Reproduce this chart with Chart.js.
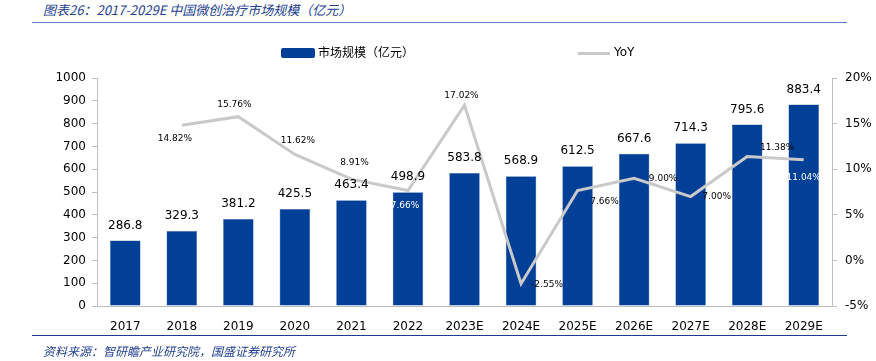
<!DOCTYPE html>
<html lang="zh">
<head>
    <meta charset="UTF-8">
    <title>中国微创治疗市场规模</title>
    <script src="https://cdn.jsdelivr.net/npm/chart.js"></script>
    <style>
        body { margin: 0; width: 876px; height: 361px; position: relative; background: #fff; overflow: hidden; }
        #chartWrap { position: absolute; left: 0; top: 0; width: 876px; height: 361px; }
        .title { position: absolute; left: 43px; top: 0px; font: italic 13px "Noto Sans CJK SC", sans-serif; color: #23408e; }
        .topline { position: absolute; left: 32px; top: 22px; width: 815px; height: 1px; background: #5b7fc4; }
        .bottomline { position: absolute; left: 32px; top: 335px; width: 815px; height: 1px; background: #1f3c88; }
        .source { position: absolute; left: 43px; top: 342px; font: italic 12px "Noto Sans CJK SC", sans-serif; color: #23408e; }
        .legend { position: absolute; top: 43px; font: 12px "Noto Sans CJK SC", sans-serif; color: #000; }
        .swatch { position: absolute; }
    </style>
</head>
<body>
    <div class="title">图表26：2017-2029E 中国微创治疗市场规模（亿元）</div>
    <div class="topline"></div>
    <div id="chartWrap"><canvas id="marketChart" width="876" height="361"></canvas></div>
    <div class="swatch" style="left:281px;top:48px;width:34px;height:10px;background:#023f96;border-radius:2px;"></div>
    <div class="legend" style="left:318px;">市场规模（亿元）</div>
    <div class="swatch" style="left:578px;top:52px;width:32px;height:3px;background:#c9c9c9;"></div>
    <div class="legend" style="left:614px;font-family:'DejaVu Sans',sans-serif;top:45px;">YoY</div>
    <div class="bottomline"></div>
    <div class="source">资料来源：智研瞻产业研究院，国盛证券研究所</div>
    <script>
        // chart data
        const years = ['2017', '2018', '2019', '2020', '2021', '2022', '2023E', '2024E', '2025E', '2026E', '2027E', '2028E', '2029E'];
        const marketSize = [286.8, 329.3, 381.2, 425.5, 463.4, 498.9, 583.8, 568.9, 612.5, 667.6, 714.3, 795.6, 883.4];
        const yoy = [null, 14.82, 15.76, 11.62, 8.91, 7.66, 17.02, -2.55, 7.66, 9.00, 7.00, 11.38, 11.04];
        const leftTicks = [0, 100, 200, 300, 400, 500, 600, 700, 800, 900, 1000];
        const rightTicks = [-5, 0, 5, 10, 15, 20];

        // where each YoY label sits relative to its point (dx, dy, colour)
        const yoyLabelStyle = [
            null, [-7, 13, '#000'], [-4, -12, '#000'], [3, -14, '#000'], [3, -16, '#000'], [-3, 15, '#fff'],
            [-3, -10, '#000'], [26, 1, '#000'], [27, 11, '#000'], [29, 0, '#000'], [26, 0, '#000'],
            [30, -9, '#000'], [0, 18, '#fff']
        ];

        const labelPlugin = {
            id: 'valueLabels',
            afterDatasetsDraw(chart) {
                const ctx = chart.ctx;
                ctx.save();
                ctx.textAlign = 'center';
                ctx.textBaseline = 'middle';
                // bar values
                ctx.font = '12px "DejaVu Sans"';
                ctx.fillStyle = '#000';
                chart.getDatasetMeta(0).data.forEach((bar, i) => {
                    ctx.fillText(marketSize[i].toFixed(1), bar.x, bar.y - 15);
                });
                // yoy values
                ctx.font = '9px "DejaVu Sans"';
                chart.getDatasetMeta(1).data.forEach((pt, i) => {
                    if (yoy[i] === null) return;
                    const s = yoyLabelStyle[i];
                    ctx.fillStyle = s[2];
                    ctx.fillText(yoy[i].toFixed(2) + '%', pt.x + s[0], pt.y + s[1]);
                });
                ctx.restore();
            }
        };

        const ctx = document.getElementById('marketChart').getContext('2d');
        new Chart(ctx, {
            data: {
                labels: years,
                datasets: [
                    {
                        type: 'bar',
                        label: '市场规模（亿元）',
                        data: marketSize,
                        backgroundColor: '#023f96',
                        borderColor: '#4a6fb5',
                        borderWidth: 0.5,
                        barPercentage: 0.54,
                        categoryPercentage: 1,
                        yAxisID: 'y',
                        order: 2
                    },
                    {
                        type: 'line',
                        label: 'YoY',
                        data: yoy,
                        borderColor: '#c9c9c9',
                        borderWidth: 3,
                        pointRadius: 0,
                        tension: 0,
                        spanGaps: false,
                        yAxisID: 'y1',
                        order: 1
                    }
                ]
            },
            options: {
                responsive: false,
                animation: false,
                layout: { padding: { top: 78, right: 0, left: 0, bottom: 0 } },
                plugins: {
                    legend: { display: false },
                    tooltip: { enabled: false }
                },
                scales: {
                    x: {
                        grid: { display: false },
                        border: { color: '#bfbfbf' },
                        ticks: { color: '#000', font: { family: 'DejaVu Sans', size: 12 }, padding: 6 },
                        afterFit(scale) { scale.height = 55; }
                    },
                    y: {
                        position: 'left',
                        min: 0,
                        max: 1000,
                        afterBuildTicks(scale) { scale.ticks = leftTicks.map(v => ({ value: v })); },
                        grid: { drawOnChartArea: false, tickLength: 5, color: '#bfbfbf' },
                        border: { color: '#bfbfbf' },
                        ticks: {
                            color: '#000',
                            font: { family: 'DejaVu Sans', size: 12 },
                            padding: 6,
                            callback: v => String(v)
                        },
                        afterFit(scale) { scale.width = 97; }
                    },
                    y1: {
                        position: 'right',
                        min: -5,
                        max: 20,
                        afterBuildTicks(scale) { scale.ticks = rightTicks.map(v => ({ value: v })); },
                        grid: { drawOnChartArea: false, tickLength: 5, color: '#bfbfbf' },
                        border: { color: '#bfbfbf' },
                        ticks: {
                            color: '#000',
                            font: { family: 'DejaVu Sans', size: 12 },
                            padding: 8,
                            callback: v => v + '%'
                        },
                        afterFit(scale) { scale.width = 44; }
                    }
                }
            },
            plugins: [labelPlugin]
        });
    </script>
</body>
</html>
